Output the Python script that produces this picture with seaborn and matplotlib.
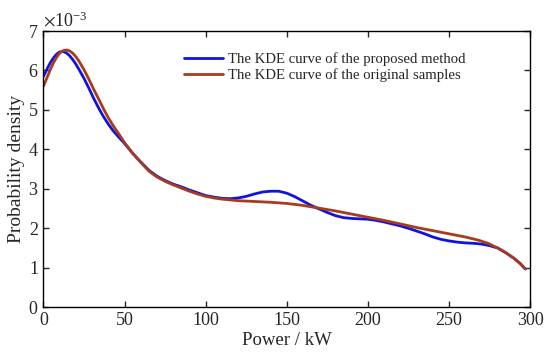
import numpy as np
import pandas as pd
import seaborn as sns
import matplotlib
matplotlib.use("Agg")
import matplotlib.pyplot as plt

# KDE curves (power in kW, density in units of 1e-3)
orig_x = [0, 2, 4, 6, 8, 10, 12, 14, 16, 18, 20, 22, 25, 28, 31, 34, 37, 40, 43, 46, 50,
          55, 60, 65, 70, 75, 80, 85, 90, 95, 100, 105, 110, 115, 120, 130, 140, 150, 160,
          170, 180, 190, 200, 210, 220, 230, 240, 250, 260, 268, 274, 280, 285, 290, 294, 297]
orig_y = [5.60, 5.80, 6.00, 6.18, 6.33, 6.44, 6.50, 6.52, 6.50, 6.44, 6.35, 6.23, 6.02,
          5.78, 5.52, 5.28, 5.03, 4.80, 4.60, 4.42, 4.17, 3.90, 3.67, 3.45, 3.30, 3.19,
          3.10, 3.02, 2.94, 2.87, 2.81, 2.77, 2.74, 2.72, 2.70, 2.68, 2.66, 2.63, 2.58,
          2.51, 2.44, 2.36, 2.28, 2.20, 2.11, 2.02, 1.94, 1.86, 1.78, 1.70, 1.62, 1.50,
          1.38, 1.24, 1.10, 0.97]

prop_x = [0, 2, 4, 6, 8, 10, 12, 14, 16, 18, 20, 22, 25, 28, 31, 34, 37, 40, 43, 46, 50,
          55, 60, 65, 70, 75, 80, 85, 90, 95, 100, 105, 110, 115, 120, 125, 130, 135, 140,
          145, 150, 155, 160, 165, 170, 175, 180, 185, 190, 195, 200, 205, 210, 215, 220,
          225, 230, 235, 240, 245, 250, 255, 260, 265, 270, 275, 280, 285, 290, 294, 297]
prop_y = [5.85, 6.02, 6.18, 6.31, 6.41, 6.47, 6.48, 6.45, 6.38, 6.28, 6.16, 6.02, 5.80,
          5.55, 5.29, 5.05, 4.83, 4.64, 4.47, 4.33, 4.15, 3.90, 3.68, 3.47, 3.32, 3.21,
          3.12, 3.05, 2.97, 2.90, 2.83, 2.79, 2.76, 2.75, 2.77, 2.81, 2.87, 2.92, 2.94,
          2.94, 2.89, 2.80, 2.69, 2.58, 2.49, 2.40, 2.32, 2.27, 2.25, 2.24, 2.23, 2.20,
          2.16, 2.11, 2.06, 2.00, 1.93, 1.86, 1.78, 1.72, 1.68, 1.65, 1.63, 1.62, 1.60,
          1.56, 1.50, 1.38, 1.24, 1.10, 0.97]

labels = ["The KDE curve of the proposed method", "The KDE curve of the original samples"]
colors = ["#1212dd", "#a63c1e"]

sns.set_style("ticks")
plt.rcParams['font.family'] = ['Liberation Serif', 'DejaVu Serif']
plt.rcParams['mathtext.fontset'] = 'stix'

df = pd.concat([
    pd.DataFrame({"x": prop_x, "y": np.array(prop_y) * 1e-3, "curve": labels[0]}),
    pd.DataFrame({"x": orig_x, "y": np.array(orig_y) * 1e-3, "curve": labels[1]}),
])

fig = plt.figure(figsize=(5.5, 3.61), dpi=100)
ax = fig.add_axes([0.079, 0.149, 0.885, 0.765])

sns.lineplot(data=df, x="x", y="y", hue="curve", palette=colors, sort=False,
             linewidth=2, ax=ax, estimator=None)

ax.set_xlim(0, 300)
ax.set_ylim(0, 7e-3)
ax.set_xticks(np.arange(0, 301, 50))
ax.set_yticks(np.arange(0, 7.01e-3, 1e-3))
ax.ticklabel_format(axis='y', style='sci', scilimits=(0, 0), useMathText=True)
ax.yaxis.get_offset_text().set_fontsize(13)
ax.tick_params(direction='in', top=True, right=True, labelsize=13, length=4, width=1)
for s in ax.spines.values():
    s.set_linewidth(1)
    s.set_color('black')

ax.set_xlabel("Power / kW", fontsize=13.5, labelpad=2)
ax.set_ylabel("Probability density", fontsize=14, labelpad=2)

leg = ax.legend(loc='upper left', bbox_to_anchor=(0.262, 0.97), frameon=False,
                fontsize=10.6, handlelength=2.6, handletextpad=0.4, labelspacing=0.15)

fig.savefig("out.png", dpi=100)
